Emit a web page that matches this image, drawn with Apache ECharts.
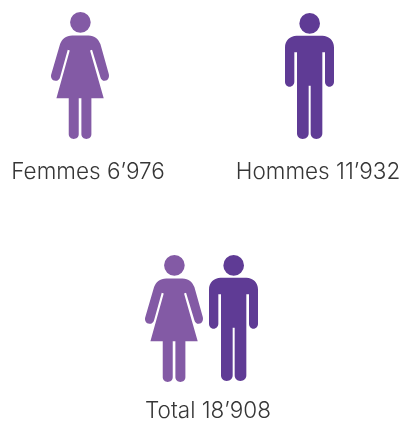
<!DOCTYPE html>
<html><head><meta charset="utf-8">
<style>html,body{margin:0;padding:0;background:#fff}#c{width:405px;height:421px}</style>
<script src="https://cdn.jsdelivr.net/npm/echarts@6/dist/echarts.min.js"></script></head>
<body><div id="c"></div>
<script>
const topCategories = ['Femmes', 'Hommes'];
const topValues = [6976, 11932];
const totalCategory = ['Total'];
const totalFemmes = [6976];
const totalHommes = [11932];
const totalValue = [18908];

const womanPath = 'path://M121,68a31,31 0 1,0 62,0a31,31 0 1,0 -62,0Z' +
  'M128,107L176,107C195,107 207,118 212,133L237,222C240,232 235,243 225,243C218,243 214,238 212,232L187,150L181,152L222,295L185,295L185,403C185,412 178,417 170,417C162,417 155,411 155,403L155,295L147,295L147,403C147,412 140,417 132,417C124,417 117,411 117,403L117,295L80,295L120,152L114,150L91,232C89,238 85,243 77,243C67,243 61,232 65,222L91,133C96,118 108,107 128,107Z';
const manPath = 'path://M103,72a31,31 0 1,0 62,0a31,31 0 1,0 -62,0Z' +
  'M95,109L172,109C192,109 207,124 207,144L207,246C207,254 201,261 193,261C186,261 180,254 180,246L180,158L172,158L172,400C172,410 165,417 154,417C144,417 137,410 137,400L137,258L131,258L131,400C131,410 124,417 113,417C103,417 96,410 96,400L96,158L88,158L88,246C88,254 81,261 74,261C66,261 60,254 60,246L60,144C60,124 75,109 95,109Z';

const womanColor = '#835aa5';
const manColor = '#5f3b95';
const fmt = v => String(v).replace(/\B(?=(\d{3})+$)/g, '’');
const textStyle = {color: '#363636', fontSize: 22.5, fontFamily: 'Inter', fontWeight: 300, margin: 22, interval: 0};

const chart = echarts.init(document.getElementById('c'), null, {renderer: 'canvas'});
chart.setOption({
  animation: false,
  backgroundColor: '#fff',
  grid: [
    {left: -27, width: 460, top: 0, height: 139, outerBoundsMode: 'none'},
    {left: 108, width: 200, top: 243, height: 139, outerBoundsMode: 'none'}
  ],
  xAxis: [
    {gridIndex: 0, type: 'category', data: topCategories,
     axisLine: {show: false}, axisTick: {show: false},
     axisLabel: {...textStyle, formatter: (n, i) => n + ' ' + fmt(topValues[i])}},
    {gridIndex: 1, type: 'category', data: totalCategory,
     axisLine: {show: false}, axisTick: {show: false},
     axisLabel: {...textStyle, margin: 18, formatter: (n, i) => n + ' ' + fmt(totalValue[i])}}
  ],
  yAxis: [
    {gridIndex: 0, type: 'value', show: false, min: 0, max: 20000},
    {gridIndex: 1, type: 'value', show: false, min: 0, max: 20000}
  ],
  series: [
    {type: 'pictorialBar', name: 'Effectif', xAxisIndex: 0, yAxisIndex: 0,
     symbolPosition: 'start', barWidth: 58,
     data: [
       {value: topValues[0], symbol: womanPath, symbolSize: [58, 127], symbolOffset: [-8, 0], itemStyle: {color: womanColor}},
       {value: topValues[1], symbol: manPath, symbolSize: [49, 126], symbolOffset: [-8.5, 0], itemStyle: {color: manColor}}
     ]},
    {type: 'pictorialBar', name: 'Femmes', xAxisIndex: 1, yAxisIndex: 1,
     symbolPosition: 'start', barWidth: 58, barGap: '2.6%',
     symbol: womanPath, symbolSize: [58, 127], symbolOffset: [-4.25, 0],
     itemStyle: {color: womanColor}, data: totalFemmes},
    {type: 'pictorialBar', name: 'Hommes', xAxisIndex: 1, yAxisIndex: 1,
     symbolPosition: 'start', barWidth: 58, barGap: '2.6%',
     symbol: manPath, symbolSize: [49, 126], symbolOffset: [-4.25, -1],
     itemStyle: {color: manColor}, data: totalHommes}
  ]
});
</script></body></html>
